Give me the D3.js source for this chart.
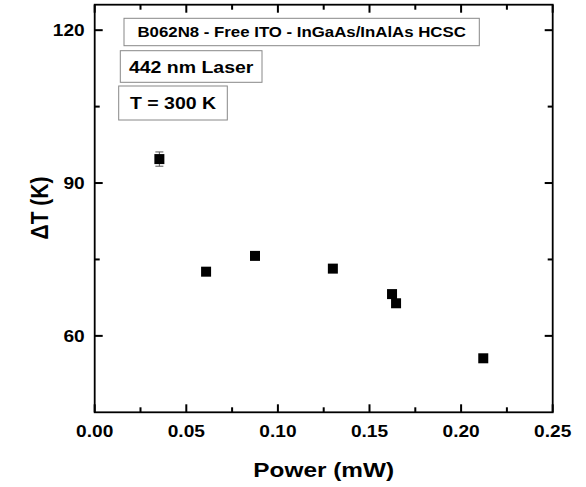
<!DOCTYPE html>
<html>
<head>
<meta charset="utf-8">
<script src="https://cdn.jsdelivr.net/npm/d3@7"></script>
<style>
  html, body { margin: 0; padding: 0; background: #fff; }
  svg { display: block; font-family: "Liberation Sans", Arial, sans-serif; }
</style>
</head>
<body>
<svg id="chart" width="586" height="487"></svg>
<script>
// ---- data ----
const power = [0.0353, 0.0608, 0.0875, 0.1300, 0.1623, 0.1645, 0.2121];
const deltaT = [94.7, 72.6, 75.7, 73.2, 68.2, 66.4, 55.6];
const deltaTErr = [1.4, 0.4, 0.4, 0.4, 0.4, 0.4, 0.4];
const xTicks = [0.00, 0.05, 0.10, 0.15, 0.20, 0.25];
const xMinor = [0.025, 0.075, 0.125, 0.175, 0.225];
const yTicks = [60, 90, 120];
const yMinor = [75, 105];
const labels = ["B062N8 - Free ITO - InGaAs/InAlAs HCSC", "442 nm Laser", "T = 300 K"];

// ---- layout ----
const svg = d3.select("#chart");
const L = 94.7, R = 552.7, T = 4.7, B = 412.3;
const x = d3.scaleLinear().domain([0, 0.25]).range([L, R]);
const y = d3.scaleLinear().domain([45, 125]).range([B, T]);
const SX = 1.16; // horizontal stretch of the reference's text
const majorLen = 8, minorLen = 5;

function stext(cx, cy, str, fs, anchor) {
  return svg.append("text")
    .attr("transform", `translate(${cx},${cy}) scale(${SX},1)`)
    .attr("text-anchor", anchor || "middle")
    .attr("font-size", fs).attr("font-weight", "bold").attr("fill", "#000")
    .text(str);
}

// frame
svg.append("rect").attr("x", L).attr("y", T).attr("width", R - L).attr("height", B - T)
  .attr("fill", "none").attr("stroke", "#000").attr("stroke-width", 1.8);

// ticks (inward on all four sides), drawn as thin filled rects
const tickData = xTicks.map(v => ({ v, len: majorLen })).concat(xMinor.map(v => ({ v, len: minorLen })));
const ytickData = yTicks.map(v => ({ v, len: majorLen })).concat(yMinor.map(v => ({ v, len: minorLen })));
const tg = svg.append("g").attr("fill", "#000");
const tw = 2;
tg.selectAll("rect.xb").data(tickData).join("rect").attr("class", "xb")
  .attr("x", d => x(d.v) - tw / 2).attr("width", tw).attr("y", d => B - d.len).attr("height", d => d.len);
tg.selectAll("rect.xt").data(tickData).join("rect").attr("class", "xt")
  .attr("x", d => x(d.v) - tw / 2).attr("width", tw).attr("y", T).attr("height", d => d.len);
tg.selectAll("rect.yl").data(ytickData).join("rect").attr("class", "yl")
  .attr("y", d => y(d.v) - tw / 2).attr("height", tw).attr("x", L).attr("width", d => d.len);
tg.selectAll("rect.yr").data(ytickData).join("rect").attr("class", "yr")
  .attr("y", d => y(d.v) - tw / 2).attr("height", tw).attr("x", d => R - d.len).attr("width", d => d.len);

// tick labels
const fmt = d3.format(".2f");
xTicks.forEach(v => stext(x(v), 437, fmt(v), 16.5));
yTicks.forEach(v => stext(L - 10, y(v) + 6, String(v), 16.5, "end"));

// axis titles
stext((L + R) / 2, 477, "Power (mW)", 21);
svg.append("text").attr("transform", `translate(48,208) rotate(-90) scale(1,${SX})`)
  .attr("text-anchor", "middle").attr("font-size", 21).attr("font-weight", "bold").text("ΔT (K)");

// data
const pts = power.map((p, i) => ({ p, t: deltaT[i], e: deltaTErr[i] }));
const eb = svg.append("g").attr("stroke", "#555").attr("stroke-width", 1);
pts.forEach(d => {
  eb.append("line").attr("x1", x(d.p)).attr("x2", x(d.p)).attr("y1", y(d.t - d.e)).attr("y2", y(d.t + d.e));
  eb.append("line").attr("x1", x(d.p) - 4).attr("x2", x(d.p) + 4).attr("y1", y(d.t - d.e)).attr("y2", y(d.t - d.e));
  eb.append("line").attr("x1", x(d.p) - 4).attr("x2", x(d.p) + 4).attr("y1", y(d.t + d.e)).attr("y2", y(d.t + d.e));
});
const s = 10;
svg.append("g").selectAll("rect").data(pts).join("rect")
  .attr("x", d => x(d.p) - s / 2).attr("y", d => y(d.t) - s / 2)
  .attr("width", s).attr("height", s).attr("fill", "#000");

// label boxes
const boxes = [
  { x0: 124, y0: 18.3, x1: 479.3, y1: 45.7, fs: 14.5 },
  { x0: 120.3, y0: 50.7, x1: 262, y1: 82.3, fs: 16.8 },
  { x0: 118.7, y0: 86, x1: 227.3, y1: 120, fs: 16.8 }
];
boxes.forEach((b, i) => {
  svg.append("rect").attr("x", b.x0).attr("y", b.y0).attr("width", b.x1 - b.x0).attr("height", b.y1 - b.y0)
    .attr("fill", "#fff").attr("stroke", "#888").attr("stroke-width", 1);
  stext((b.x0 + b.x1) / 2, (b.y0 + b.y1) / 2 + b.fs * 0.36, labels[i], b.fs);
});
</script>
</body>
</html>
